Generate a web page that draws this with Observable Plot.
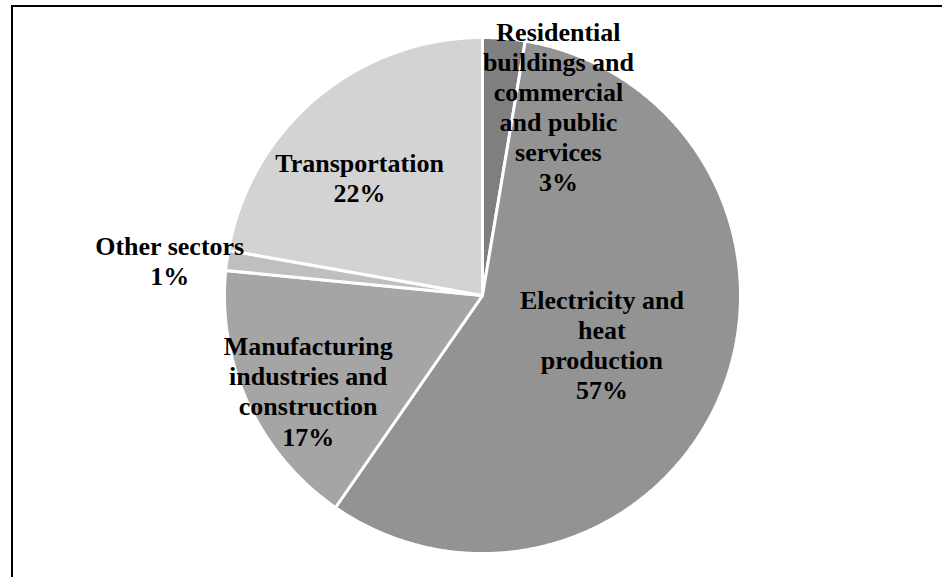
<!DOCTYPE html>
<html>
<head>
<meta charset="utf-8">
<script src="https://cdn.jsdelivr.net/npm/d3@7"></script>
<script src="https://cdn.jsdelivr.net/npm/@observablehq/plot@0.6"></script>
<style>
  html, body { margin: 0; padding: 0; background: #fff; overflow: hidden; }
  #wrap { position: relative; width: 942px; height: 577px; }
  #border { position: absolute; left: 11px; top: 5px; width: 1000px; height: 1000px;
            border-left: 2px solid #000; border-top: 2px solid #000; pointer-events: none; }
</style>
</head>
<body>
<div id="wrap"><div id="chart"></div><div id="border"></div></div>
<script>
// ---- data ----
const categories = [
  "Residential buildings and commercial and public services",
  "Electricity and heat production",
  "Manufacturing industries and construction",
  "Other sectors",
  "Transportation"
];
const labelLines = [
  "Residential\nbuildings and\ncommercial\nand public\nservices",
  "Electricity and\nheat\nproduction",
  "Manufacturing\nindustries and\nconstruction",
  "Other sectors",
  "Transportation"
];
const shares = [2.65, 57.0, 16.9, 1.25, 22.2]; // percent
const colors = ["#7f7f7f", "#939393", "#a5a5a5", "#bfbfbf", "#d3d3d3"];

// ---- layout ----
const W = 942, H = 577;
const cx = 482, cy = 295, R = 258;
// label placement: angle offset from slice mid-angle (deg) and radius fraction
const labelLayout = [
  {dAngle: 17.1, radius: 0.79},
  {dAngle: 0.1, radius: 0.50},
  {dAngle: -3.8, radius: 0.77},
  {dAngle: -1.4, radius: 1.22},
  {dAngle: -6.25, radius: 0.66}
];

const arcs = d3.pie().sort(null).value(d => d).startAngle(0).endAngle(2 * Math.PI)(shares);

const points = [];
arcs.forEach((a, i) => {
  const cat = categories[i];
  points.push({category: cat, x: 0, y: 0});
  const n = Math.max(2, Math.ceil((a.endAngle - a.startAngle) / (Math.PI / 360)));
  for (let k = 0; k <= n; k++) {
    const t = a.startAngle + (a.endAngle - a.startAngle) * k / n;
    points.push({category: cat, x: Math.sin(t), y: Math.cos(t)});
  }
  points.push({category: cat, x: 0, y: 0});
});

const labels = arcs.map((a, i) => {
  const mid = (a.startAngle + a.endAngle) / 2 + labelLayout[i].dAngle * Math.PI / 180;
  const rr = labelLayout[i].radius;
  return {
    text: labelLines[i] + "\n" + Math.round(shares[i]) + "%",
    x: rr * Math.sin(mid),
    y: rr * Math.cos(mid)
  };
});

const chart = Plot.plot({
  width: W,
  height: H,
  margin: 0,
  x: {domain: [-1, 1], range: [cx - R, cx + R], axis: null},
  y: {domain: [-1, 1], range: [cy + R, cy - R], axis: null},
  color: {domain: categories, range: colors},
  style: {background: "transparent"},
  marks: [
    Plot.line(points, {
      x: "x", y: "y", z: "category", fill: "category",
      stroke: "white", strokeWidth: 3, strokeLinejoin: "miter", curve: "linear"
    }),
    Plot.text(labels, {
      x: "x", y: "y", text: "text",
      fontSize: 26, fontWeight: "bold", fontFamily: "Liberation Serif, Times New Roman, serif",
      lineHeight: 1.16, fill: "black", textAnchor: "middle"
    })
  ]
});
document.getElementById("chart").appendChild(chart);
</script>
</body>
</html>
